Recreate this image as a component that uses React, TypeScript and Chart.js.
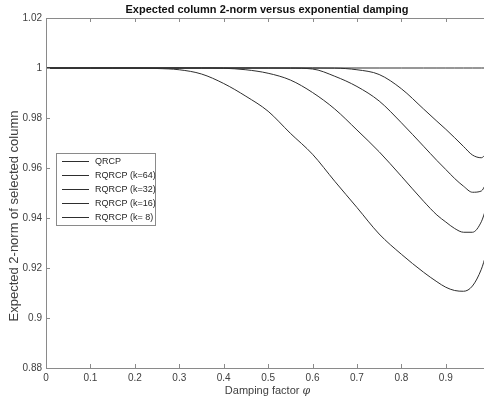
import React, { useEffect, useRef } from "react";
import { Chart, registerables } from "chart.js";

Chart.register(...registerables);

const PHI = [0, 0.05, 0.1, 0.15, 0.2, 0.25, 0.3, 0.35, 0.4, 0.45, 0.5, 0.55, 0.6, 0.65, 0.7, 0.75, 0.8, 0.85, 0.88, 0.9, 0.92, 0.94, 0.96, 0.98, 0.99];
const QRCP = [1, 1, 1, 1, 1, 1, 1, 1, 1, 1, 1, 1, 1, 1, 1, 1, 1, 1, 1, 1, 1, 1, 1, 1, 1];
const K64 = [1, 1, 1, 1, 1, 1, 1, 1, 1, 1, 1, 1, 1, 0.99995, 0.9993, 0.9974, 0.9917, 0.9836, 0.9787, 0.9755, 0.9721, 0.9686, 0.9652, 0.9641, 0.9655];
const K32 = [1, 1, 1, 1, 1, 1, 1, 1, 1, 1, 1, 0.99995, 0.9996, 0.9967, 0.9926, 0.9868, 0.9781, 0.9687, 0.963, 0.9594, 0.9558, 0.9527, 0.9503, 0.9508, 0.9535];
const K16 = [1, 1, 1, 1, 1, 1, 1, 1, 0.9999, 0.9993, 0.9979, 0.9952, 0.9902, 0.9836, 0.9752, 0.9665, 0.9567, 0.9467, 0.9412, 0.9384, 0.9358, 0.9343, 0.9343, 0.9385, 0.9435];
const K8 = [1, 1, 1, 1, 0.99998, 0.9998, 0.9993, 0.9976, 0.9938, 0.9887, 0.9827, 0.9739, 0.9655, 0.9547, 0.9442, 0.9336, 0.9255, 0.9183, 0.9145, 0.9123, 0.911, 0.9107, 0.9128, 0.9195, 0.925];

const SERIES_LABELS = ["QRCP", "RQRCP (k=64)", "RQRCP (k=32)", "RQRCP (k=16)", "RQRCP (k= 8)"];
const X_TICKS = [0, 0.1, 0.2, 0.3, 0.4, 0.5, 0.6, 0.7, 0.8, 0.9];
const Y_TICKS = [0.88, 0.9, 0.92, 0.94, 0.96, 0.98, 1, 1.02];
const TITLE = "Expected column 2-norm versus exponential damping";
const X_LABEL = "Damping factor ";
const Y_LABEL = "Expected 2-norm of selected column";

const FONT = "'Liberation Sans', Arial, Helvetica, sans-serif";
const LINE_COLOR = "#2e2e2e";
const AXIS_COLOR = "#8a8a8a";
const TEXT_COLOR = "#404040";

const decorPlugin = {
  id: "decor",
  afterDraw(chart: any) {
    const { ctx, chartArea, scales } = chart;
    const { left, right, top, bottom } = chartArea;
    const x = scales.x;
    const y = scales.y;
    ctx.save();
    ctx.strokeStyle = AXIS_COLOR;
    ctx.lineWidth = 1;
    ctx.beginPath();
    ctx.moveTo(left + 0.5, top + 0.5);
    ctx.lineTo(right, top + 0.5);
    ctx.moveTo(left + 0.5, top);
    ctx.lineTo(left + 0.5, bottom + 0.5);
    ctx.lineTo(right, bottom + 0.5);
    ctx.stroke();
    ctx.beginPath();
    X_TICKS.forEach((v) => {
      const px = Math.round(x.getPixelForValue(v)) + 0.5;
      ctx.moveTo(px, bottom);
      ctx.lineTo(px, bottom - 4);
      ctx.moveTo(px, top);
      ctx.lineTo(px, top + 4);
    });
    Y_TICKS.forEach((v) => {
      const py = Math.round(y.getPixelForValue(v)) + 0.5;
      ctx.moveTo(left, py);
      ctx.lineTo(left + 4, py);
    });
    ctx.stroke();

    ctx.fillStyle = "#111";
    ctx.font = `bold 11px ${FONT}`;
    ctx.textAlign = "center";
    ctx.textBaseline = "middle";
    ctx.fillText(TITLE, 267, 10);

    ctx.fillStyle = TEXT_COLOR;
    ctx.font = `11px ${FONT}`;
    const w1 = ctx.measureText(X_LABEL).width;
    ctx.font = `italic 11px 'DejaVu Serif', serif`;
    const w2 = ctx.measureText("\u03C6").width;
    const startX = 267.5 - (w1 + w2) / 2;
    ctx.textAlign = "left";
    ctx.font = `11px ${FONT}`;
    ctx.fillText(X_LABEL, startX, 391);
    ctx.font = `italic 11px 'DejaVu Serif', serif`;
    ctx.fillText("\u03C6", startX + w1, 391);

    ctx.save();
    ctx.translate(14, 216);
    ctx.rotate(-Math.PI / 2);
    ctx.font = `13px ${FONT}`;
    ctx.textAlign = "center";
    ctx.fillText(Y_LABEL, 0, 0);
    ctx.restore();

    const bx = 56.5, by = 153.5, bw = 99, bh = 72;
    ctx.fillStyle = "#fff";
    ctx.fillRect(bx, by, bw, bh);
    ctx.strokeStyle = AXIS_COLOR;
    ctx.strokeRect(bx, by, bw, bh);
    ctx.font = `9px ${FONT}`;
    ctx.textAlign = "left";
    ctx.textBaseline = "middle";
    SERIES_LABELS.forEach((lab, i) => {
      const ry = 161 + i * 14;
      ctx.strokeStyle = LINE_COLOR;
      ctx.beginPath();
      ctx.moveTo(62, ry + 0.5);
      ctx.lineTo(89, ry + 0.5);
      ctx.stroke();
      ctx.fillStyle = "#262626";
      ctx.fillText(lab, 95, ry + 0.5);
    });
    ctx.restore();
  },
};

export default function App() {
  const ref = useRef<HTMLCanvasElement | null>(null);
  useEffect(() => {
    if (!ref.current) return;
    const mk = (label: string, vals: number[]) => ({
      label,
      data: PHI.map((p, i) => ({ x: p, y: vals[i] })),
      borderColor: LINE_COLOR,
      borderWidth: 1,
      pointRadius: 0,
      fill: false,
      cubicInterpolationMode: "monotone" as const,
    });
    const chart = new Chart(ref.current, {
      type: "line",
      data: {
        datasets: [
          mk(SERIES_LABELS[0], QRCP),
          mk(SERIES_LABELS[1], K64),
          mk(SERIES_LABELS[2], K32),
          mk(SERIES_LABELS[3], K16),
          mk(SERIES_LABELS[4], K8),
        ],
      },
      options: {
        responsive: false,
        animation: false,
        layout: { padding: { top: 18, left: 0, right: 0, bottom: 0 } },
        plugins: { legend: { display: false }, tooltip: { enabled: false }, title: { display: false } },
        scales: {
          x: {
            type: "linear",
            min: 0,
            max: 0.986,
            grid: { display: false, drawTicks: false },
            border: { display: false },
            afterFit: (s: any) => { s.height = 35; },
            ticks: {
              stepSize: 0.1,
              includeBounds: false,
              maxRotation: 0,
              autoSkip: false,
              padding: 4,
              color: TEXT_COLOR,
              font: { size: 10, family: FONT },
              callback: (v: any) => String(Number(Number(v).toFixed(2))),
            },
          },
          y: {
            type: "linear",
            min: 0.88,
            max: 1.02,
            grid: { display: false, drawTicks: false },
            border: { display: false },
            afterFit: (s: any) => { s.width = 46; },
            ticks: {
              stepSize: 0.02,
              includeBounds: false,
              autoSkip: false,
              padding: 4,
              color: TEXT_COLOR,
              font: { size: 10, family: FONT },
              callback: (v: any) => String(Number(Number(v).toFixed(2))),
            },
          },
        },
      },
      plugins: [decorPlugin],
    });
    return () => chart.destroy();
  }, []);
  return (
    <div style={{ position: "fixed", left: 0, top: 0, width: 484, height: 403, background: "#fff" }}>
      <canvas ref={ref} width={484} height={403} style={{ display: "block" }} />
    </div>
  );
}
